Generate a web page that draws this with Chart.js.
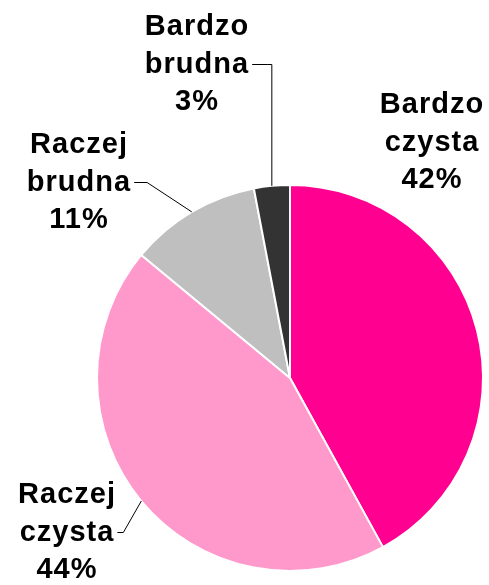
<!DOCTYPE html>
<html>
<head>
<meta charset="utf-8">
<script src="https://cdn.jsdelivr.net/npm/chart.js@4"></script>
<style>
  html, body { margin: 0; padding: 0; background: #fff; }
  #wrap { width: 489px; height: 585px; }
</style>
</head>
<body>
<div id="wrap"><canvas id="pieChart" width="489" height="585"></canvas></div>
<script>
// --- Data ---
const categories = ['Bardzo czysta', 'Raczej czysta', 'Raczej brudna', 'Bardzo brudna'];
const labelLines = [['Bardzo', 'czysta'], ['Raczej', 'czysta'], ['Raczej', 'brudna'], ['Bardzo', 'brudna']];
const shares = [42, 44, 11, 3];
const sliceColors = ['#FF0090', '#FF99CC', '#BFBFBF', '#333333'];

// label placement (text centre + leader line elbow), relative to the canvas
const labelStyle = [
    { x: 432, y: 105, leader: false },
    { x: 67, y: 495, leader: true, side: 'left', elbowDx: 6 },
    { x: 79, y: 145, leader: true, side: 'left', elbowDx: 13 },
    { x: 197, y: 27, leader: true, side: 'right', elbowDx: 15 }
];

// --- Outside labels with leader lines ---
const outsideLabels = {
    id: 'outsideLabels',
    afterDatasetsDraw(chart) {
        const ctx = chart.ctx;
        const meta = chart.getDatasetMeta(0);
        const lineH = 37.5;
        ctx.save();
        ctx.font = 'bold 29px "Liberation Sans", Arial, sans-serif';
        ctx.letterSpacing = '1px';
        ctx.textAlign = 'center';
        ctx.textBaseline = 'middle';
        ctx.fillStyle = '#000';
        meta.data.forEach((arc, i) => {
            const st = labelStyle[i];
            const lines = labelLines[i].concat([shares[i] + '%']);
            lines.forEach((t, k) => ctx.fillText(t, st.x, st.y + k * lineH));
            if (!st.leader) return;
            // point on the edge in the middle of the slice
            const mid = (arc.startAngle + arc.endAngle) / 2;
            const ex = arc.x + Math.cos(mid) * arc.outerRadius;
            const ey = arc.y + Math.sin(mid) * arc.outerRadius;
            const w = ctx.measureText(lines[1]).width;
            const ly = st.y + lineH;
            const sx = st.x + w / 2 + 3;
            const elbowX = sx + st.elbowDx;
            ctx.strokeStyle = '#000';
            ctx.lineWidth = 1;
            ctx.beginPath();
            ctx.moveTo(sx, ly);
            ctx.lineTo(elbowX, ly);
            if (st.side === 'right') {
                ctx.lineTo(ex, ly);
                ctx.lineTo(ex, ey);
            } else {
                ctx.lineTo(ex, ey);
            }
            ctx.stroke();
        });
        ctx.restore();
    }
};

const ctxPie = document.getElementById('pieChart').getContext('2d');
const pieChart = new Chart(ctxPie, {
    type: 'pie',
    data: {
        labels: categories,
        datasets: [{
            data: shares,
            backgroundColor: sliceColors,
            borderColor: '#FFFFFF',
            borderWidth: 2
        }]
    },
    options: {
        responsive: false,
        animation: false,
        layout: { padding: { left: 96, right: 5, top: 184, bottom: 13 } },
        plugins: {
            legend: { display: false },
            tooltip: { enabled: false }
        }
    },
    plugins: [outsideLabels]
});
</script>
</body>
</html>
